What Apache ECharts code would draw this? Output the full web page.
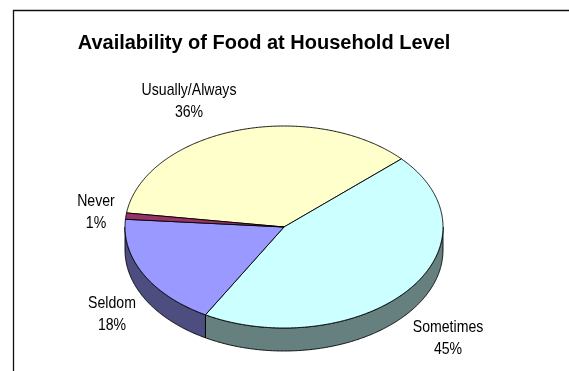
<!DOCTYPE html>
<html>
<head>
<meta charset="utf-8">
<script src="https://cdn.jsdelivr.net/npm/echarts@6/dist/echarts.min.js"></script>
<style>
  html, body { margin: 0; padding: 0; background: #fff; }
  #chart { width: 569px; height: 371px; }
</style>
</head>
<body>
<div id="chart"></div>
<script>
// Survey answers and their shares (percent)
const categories = ['Usually/Always', 'Sometimes', 'Seldom', 'Never'];
const shares = [36, 45, 18, 1];

// Styling per slice: top face and darker wall
const topColors = ['#FFFFCC', '#CCFFFF', '#9999FF', '#993366'];
const sideColors = ['#80805F', '#668080', '#4D4D80', '#4D1A33'];

// Label anchor points (centre of the two-line label)
const labelAnchors = [[189, 101], [448, 338], [112, 314], [96, 212]];

// Tilted pie geometry
const CX = 284, CY = 227, RX = 159, RY = 101, DEPTH = 23, START = 172;
const LABEL_FONT = '"Liberation Sans", Arial, sans-serif';

const total = shares.reduce((a, b) => a + b, 0);
let acc = START;
const slices = shares.map(v => {
  const s = acc;
  const e = acc - v / total * 360;
  acc = e;
  return [s, e];
});

function rim(a, dy) {
  const r = a * Math.PI / 180;
  return [CX + RX * Math.cos(r), CY - RY * Math.sin(r) + (dy || 0)];
}
function arcPts(a0, a1, dy) {
  const n = Math.max(2, Math.ceil(Math.abs(a0 - a1) * 2));
  const pts = [];
  for (let i = 0; i <= n; i++) pts.push(rim(a0 + (a1 - a0) * i / n, dy));
  return pts;
}
// parts of a slice's outer edge that face the viewer (lower half of the ellipse)
function frontParts(s, e) {
  const parts = [];
  for (let k = -1; k <= 1; k++) {
    const lo = -180 + 360 * k, hi = 360 * k;
    const a = Math.min(s, hi), b = Math.max(e, lo);
    if (a > b) parts.push([a, b]);
  }
  return parts;
}

const chart = echarts.init(document.getElementById('chart'), null, { renderer: 'canvas' });
chart.setOption({
  animation: false,
  backgroundColor: '#fff',
  title: {
    text: 'Availability of Food at Household Level',
    left: 264,
    top: 33,
    padding: 0,
    textAlign: 'center',
    textStyle: { fontSize: 20, fontWeight: 'bold', color: '#000', fontFamily: '"Liberation Sans", Arial, sans-serif' }
  },
  graphic: [{
    type: 'rect', silent: true, z: -1,
    shape: { x: 13.5, y: 10.5, width: 620, height: 420 },
    style: { fill: 'none', stroke: '#111', lineWidth: 1.3 }
  }],
  series: [{
    type: 'custom',
    coordinateSystem: 'none',
    data: shares.map((v, i) => ({ name: categories[i], value: v })),
    renderItem: function (params, api) {
      const i = params.dataIndex;
      const [s, e] = slices[i];
      const children = [];
      frontParts(s, e).forEach(([a, b]) => {
        const pts = arcPts(a, b, 0).concat(arcPts(b, a, DEPTH));
        children.push({
          type: 'polygon',
          shape: { points: pts },
          style: { fill: sideColors[i], stroke: '#000', lineWidth: 0.9, lineJoin: 'round' }
        });
      });
      children.push({
        type: 'polygon',
        shape: { points: [[CX, CY]].concat(arcPts(s, e, 0)) },
        style: { fill: topColors[i], stroke: '#000', lineWidth: 0.9, lineJoin: 'round' }
      });
      // condensed two-line label
      children.push({
        type: 'text',
        x: labelAnchors[i][0],
        y: labelAnchors[i][1],
        scaleX: 0.83,
        style: {
          text: categories[i] + '\n' + api.value(0) + '%',
          align: 'center',
          verticalAlign: 'middle',
          fontSize: 17,
          lineHeight: 22,
          fontFamily: LABEL_FONT,
          fill: '#000'
        }
      });
      return { type: 'group', children: children };
    }
  }]
});
</script>
</body>
</html>
